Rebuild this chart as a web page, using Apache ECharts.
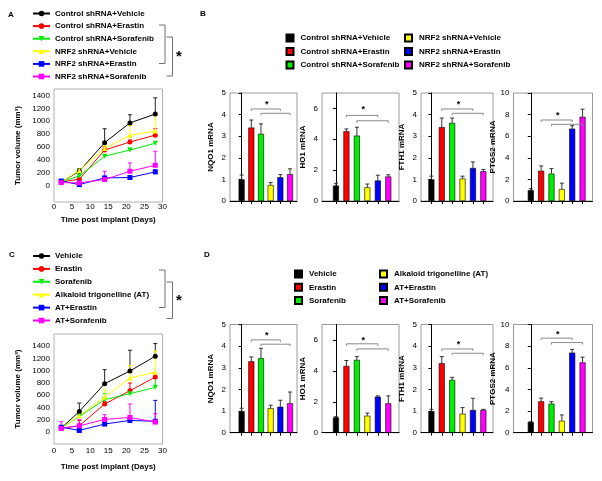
<!DOCTYPE html>
<html><head><meta charset="utf-8">
<script src="https://cdn.jsdelivr.net/npm/echarts@6/dist/echarts.min.js"></script>
<style>html,body{margin:0;padding:0;background:#fff}#c{width:602px;height:481px}</style>
</head><body><div id="c"></div>
<script>
// ---------------- data ----------------
const days = [2, 7, 14, 21, 28];
const groupsAB = ['Control shRNA+Vehicle', 'Control shRNA+Erastin', 'Control shRNA+Sorafenib',
  'NRF2 shRNA+Vehicle', 'NRF2 shRNA+Erastin', 'NRF2 shRNA+Sorafenib'];
const groupsCD = ['Vehicle', 'Erastin', 'Sorafenib', 'Alkaloid trigonelline (AT)', 'AT+Erastin', 'AT+Sorafenib'];

const tumorA = [
  [60, 226, 669, 975, 1112],
  [60, 103, 555, 679, 785],
  [60, 154, 458, 555, 660],
  [60, 237, 580, 782, 850],
  [75, 20, 123, 129, 216],
  [50, 46, 98, 226, 319]];
const tumorAErr = [
  [15, 42, 216, 126, 252],
  [15, 20, 50, 30, 100],
  [10, 15, 25, 30, 25],
  [10, 20, 40, 155, 250],
  [10, 10, 20, 25, 30],
  [10, 10, 128, 129, 216]];

const tumorC = [
  [60, 333, 787, 995, 1236],
  [60, 98, 454, 672, 895],
  [60, 251, 525, 623, 727],
  [60, 262, 569, 880, 975],
  [75, 22, 126, 186, 172],
  [55, 98, 202, 235, 159]];
const tumorCErr = [
  [15, 137, 230, 339, 207],
  [15, 88, 40, 126, 60],
  [10, 40, 100, 40, 153],
  [10, 60, 120, 203, 343],
  [10, 10, 20, 25, 342],
  [110, 99, 77, 219, 136]];

const genes = ['NQO1', 'HO1', 'FTH1', 'PTGS2'];
const mrnaB = [
  [1.0, 3.4, 3.11, 0.74, 1.1, 1.24],
  [1.0, 4.52, 4.24, 0.89, 1.33, 1.59],
  [1.0, 3.42, 3.62, 1.04, 1.53, 1.38],
  [1.0, 2.8, 2.54, 1.1, 6.7, 7.8]];
const mrnaBErr = [
  [0.2, 0.35, 0.46, 0.11, 0.12, 0.25],
  [0.15, 0.15, 0.54, 0.21, 0.34, 0.11],
  [0.15, 0.42, 0.22, 0.11, 0.28, 0.08],
  [0.14, 0.45, 0.46, 0.55, 0.27, 0.7]];
const mrnaD = [
  [1.0, 3.3, 3.44, 1.13, 1.2, 1.36],
  [0.99, 4.32, 4.71, 1.1, 2.33, 1.9],
  [1.0, 3.21, 2.44, 0.88, 1.05, 1.05],
  [0.99, 2.9, 2.69, 1.11, 7.4, 6.5]];
const mrnaDErr = [
  [0.13, 0.2, 0.46, 0.14, 0.3, 0.52],
  [0.05, 0.35, 0.21, 0.17, 0.05, 0.48],
  [0.08, 0.31, 0.12, 0.28, 0.54, 0.03],
  [0.03, 0.3, 0.18, 0.53, 0.3, 0.48]];

// ---------------- layout / style ----------------
const FONT = "'Liberation Sans', Arial, Helvetica, sans-serif";
const cols = ['#000000', '#ff0000', '#00ee00', '#ffff00', '#0000ff', '#ff00ff'];
const marks = ['circle', 'circle', 'triangle', 'triangle', 'rect', 'rect'];
const rots = [0, 0, 180, 0, 0, 0];
const yMaxBar = [5, 7, 5, 10];
const yLabBar = [[0,1,2,3,4,5],[0,2,4,6],[0,1,2,3,4,5],[0,2,4,6,8,10]];
// significance bracket levels (data units): [upper line, lower line, star]
const sigB = [[4.26, 4.06, 4.45], [5.55, 5.2, 5.9], [4.26, 4.06, 4.45], [7.5, 7.1, 7.96]];
const sigD = [[4.29, 4.09, 4.49], [5.75, 5.42, 5.96], [3.87, 3.67, 4.09], [8.74, 8.33, 9.05]];
const barLefts = [230, 322, 421, 513.5];
const barWidths = [67, 77, 72, 79];
const barXMin = [-1.2, -1.33, -1.0, -1.67];
const barXMax = [5.72, 6.02, 5.93, 5.96];

const grids = [], xAxes = [], yAxes = [], series = [];
const txt = {fontFamily: FONT, fontSize: 8, color: '#000'};
const plain = v => String(v);

function errRender(cap) {
  return function (params, api) {
    const x = api.value(0), y = api.value(1), e = api.value(2);
    const p0 = api.coord([x, y]), p1 = api.coord([x, y + e]);
    const style = {stroke: api.visual('color'), lineWidth: 1};
    return {type: 'group', children: [
      {type: 'line', shape: {x1: p0[0], y1: p0[1], x2: p1[0], y2: p1[1]}, style},
      {type: 'line', shape: {x1: p1[0] - cap, y1: p1[1], x2: p1[0] + cap, y2: p1[1]}, style}]};
  };
}
function sigRender(params, api) {
  const x1 = api.value(0), x2 = api.value(1), y = api.value(2);
  const a = api.coord([x1, y]), b = api.coord([x2, y]);
  return {type: 'polyline', shape: {points: [[a[0], a[1] + 2], [a[0], a[1]], [b[0], b[1]], [b[0], b[1] + 2]]},
    style: {stroke: '#8a8a8a', lineWidth: 1, fill: null}};
}
function starRender(params, api) {
  const p = api.coord([api.value(0), api.value(1)]);
  return {type: 'text', x: p[0], y: p[1], style: {text: '*', fontFamily: FONT, fontWeight: 'bold', fontSize: 9, fill: '#000', align: 'center', verticalAlign: 'middle'}};
}

function addLinePanel(top, height, ymin, ymax, names, vals, errs, labelMargin, nameGapX) {
  const gi = grids.length;
  grids.push({left: 54, top: top, width: 108.5, height: height, show: true, borderColor: '#b0b0b0', borderWidth: 1, backgroundColor: 'transparent'});
  xAxes.push({gridIndex: gi, type: 'value', min: 0, max: 30, interval: 5,
    name: 'Time post implant (Days)', nameLocation: 'middle', nameGap: nameGapX,
    nameTextStyle: Object.assign({}, txt, {fontWeight: 'bold'}),
    axisLine: {show: false}, axisTick: {show: false}, splitLine: {show: false},
    axisLabel: Object.assign({}, txt, {margin: labelMargin, formatter: plain})});
  yAxes.push({gridIndex: gi, type: 'value', min: ymin, max: ymax,
    name: 'Tumor volume (mm³)', nameLocation: 'middle', nameGap: 32,
    nameTextStyle: Object.assign({}, txt, {fontWeight: 'bold'}),
    axisLine: {show: false}, axisTick: {show: false}, splitLine: {show: false},
    axisLabel: Object.assign({}, txt, {margin: 4, formatter: plain, customValues: [0, 200, 400, 600, 800, 1000, 1200, 1400]})});
  names.forEach((n, i) => {
    series.push({type: 'custom', name: 'err' + gi + '_' + i, xAxisIndex: gi, yAxisIndex: gi,
      data: days.map((d, j) => [d, vals[i][j], errs[i][j]]), encode: {x: 0, y: 1},
      itemStyle: {color: cols[i] === '#000000' ? '#222' : cols[i]}, renderItem: errRender(2), z: 2, silent: true});
  });
  names.forEach((n, i) => {
    series.push({type: 'line', name: n, xAxisIndex: gi, yAxisIndex: gi,
      data: days.map((d, j) => [d, vals[i][j]]), symbol: marks[i], symbolRotate: rots[i], symbolSize: 5,
      itemStyle: {color: cols[i]}, lineStyle: {width: 1, color: cols[i]}, z: 3});
  });
}

function addBarPanel(top, height, prefix, names, vals, errs, sig) {
  for (let g = 0; g < 4; g++) {
    const gi = grids.length;
    grids.push({left: barLefts[g], top: top, width: barWidths[g], height: height, show: true, borderColor: '#9a9a9a', borderWidth: 1, backgroundColor: 'transparent'});
    xAxes.push({gridIndex: gi, type: 'value', min: barXMin[g], max: barXMax[g],
      axisLine: {show: true, lineStyle: {color: '#000', width: 1}},
      axisTick: {show: true, length: 3, customValues: [0, 1, 2, 3, 4, 5], lineStyle: {color: '#000'}},
      axisLabel: {show: false}, splitLine: {show: false}});
    yAxes.push({gridIndex: gi, type: 'value', min: 0, max: yMaxBar[g],
      name: genes[g] + ' mRNA', nameLocation: 'middle', nameGap: 15,
      nameTextStyle: Object.assign({}, txt, {fontWeight: 'bold'}),
      axisLine: {show: true, lineStyle: {color: '#000', width: 1}},
      axisTick: {show: true, length: 3, customValues: yLabBar[g], lineStyle: {color: '#000'}},
      axisLabel: Object.assign({}, txt, {margin: 4, formatter: plain, customValues: yLabBar[g]}), splitLine: {show: false}});
    names.forEach((n, i) => {
      series.push({type: 'bar', name: prefix + n, xAxisIndex: gi, yAxisIndex: gi,
        data: [[i, vals[g][i]]], barWidth: 6, barGap: '-100%',
        itemStyle: {color: cols[i], borderColor: '#000', borderWidth: 0.6}, z: 2});
    });
    series.push({type: 'custom', name: 'berr' + gi, xAxisIndex: gi, yAxisIndex: gi,
      data: vals[g].map((v, i) => [i, v, errs[g][i]]), encode: {x: 0, y: 1},
      itemStyle: {color: '#333'}, renderItem: errRender(2), z: 1, silent: true});
    series.push({type: 'custom', name: 'sig' + gi, xAxisIndex: gi, yAxisIndex: gi,
      data: [[1, 4, sig[g][0]], [2, 5, sig[g][1]]], encode: {x: 0, y: 2},
      renderItem: sigRender, z: 4, silent: true});
    series.push({type: 'custom', name: 'star' + gi, xAxisIndex: gi, yAxisIndex: gi,
      data: [[2.6, sig[g][2]]], encode: {x: 0, y: 1},
      renderItem: starRender, z: 4, silent: true});
  }
}

addLinePanel(89, 113, -250, 1500, groupsAB, tumorA, tumorAErr, 1, 14);
addBarPanel(93, 108, 'B|', groupsAB, mrnaB, mrnaBErr, sigB);
addLinePanel(334, 110, -200, 1600, groupsCD, tumorC, tumorCErr, 3, 19);
addBarPanel(324.5, 108.2, 'D|', groupsCD, mrnaD, mrnaDErr, sigD);

const legTxt = {fontFamily: FONT, fontSize: 8, fontWeight: 'bold', color: '#000', lineHeight: 10};
const legTxtB = Object.assign({padding: [0, 0, 0, 2]}, legTxt);
const strip = n => n.split('|').pop();
const boxItem = n => ({name: n, icon: 'rect'});
const legends = [
  {left: 32, top: 8.5, padding: 0, orient: 'vertical', itemGap: 2.6, itemWidth: 17, itemHeight: 7, data: groupsAB,
    textStyle: legTxt, selectedMode: false},
  {left: 32, top: 251, padding: 0, orient: 'vertical', itemGap: 2.9, itemWidth: 17, itemHeight: 7, data: groupsCD,
    textStyle: legTxt, selectedMode: false},
  {left: 285.5, top: 33, padding: 0, orient: 'vertical', itemGap: 3.5, itemWidth: 7, itemHeight: 7,
    data: groupsAB.slice(0, 3).map(n => boxItem('B|' + n)), formatter: strip, textStyle: legTxtB, selectedMode: false},
  {left: 404, top: 33, padding: 0, orient: 'vertical', itemGap: 3.5, itemWidth: 7, itemHeight: 7,
    data: groupsAB.slice(3).map(n => boxItem('B|' + n)), formatter: strip, textStyle: legTxtB, selectedMode: false},
  {left: 294, top: 269, padding: 0, orient: 'vertical', itemGap: 3.3, itemWidth: 7, itemHeight: 7,
    data: groupsCD.slice(0, 3).map(n => boxItem('D|' + n)), formatter: strip, textStyle: legTxtB, selectedMode: false},
  {left: 379, top: 269, padding: 0, orient: 'vertical', itemGap: 3.3, itemWidth: 7, itemHeight: 7,
    data: groupsCD.slice(3).map(n => boxItem('D|' + n)), formatter: strip, textStyle: legTxtB, selectedMode: false}
];

const bracketStyle = {stroke: '#707070', lineWidth: 1, fill: null};
const letter = (t, x, y) => ({type: 'text', x: x, y: y, style: {text: t, fontFamily: FONT, fontWeight: 'bold', fontSize: 8, fill: '#000', align: 'center', verticalAlign: 'middle'}});
const bigStar = (x, y) => ({type: 'text', x: x, y: y, style: {text: '*', fontFamily: FONT, fontWeight: 'bold', fontSize: 15, fill: '#000', align: 'center', verticalAlign: 'middle'}});
const graphic = [
  letter('A', 11, 15), letter('B', 203, 14), letter('C', 12, 255), letter('D', 207, 255),
  {type: 'polyline', shape: {points: [[159, 25], [165, 25], [165, 63.5], [159, 63.5]]}, style: bracketStyle},
  {type: 'polyline', shape: {points: [[166.5, 37], [172.5, 37], [172.5, 76], [166.5, 76]]}, style: bracketStyle},
  bigStar(179, 57),
  {type: 'polyline', shape: {points: [[159, 270], [165, 270], [165, 307.5], [159, 307.5]]}, style: bracketStyle},
  {type: 'polyline', shape: {points: [[166.5, 282], [172.5, 282], [172.5, 318.5], [166.5, 318.5]]}, style: bracketStyle},
  bigStar(179, 301)
];

const chart = echarts.init(document.getElementById('c'), null, {renderer: 'canvas'});
chart.setOption({
  animation: false,
  backgroundColor: '#fff',
  textStyle: {fontFamily: FONT},
  grid: grids, xAxis: xAxes, yAxis: yAxes, legend: legends, series: series, graphic: graphic
});
</script></body></html>
